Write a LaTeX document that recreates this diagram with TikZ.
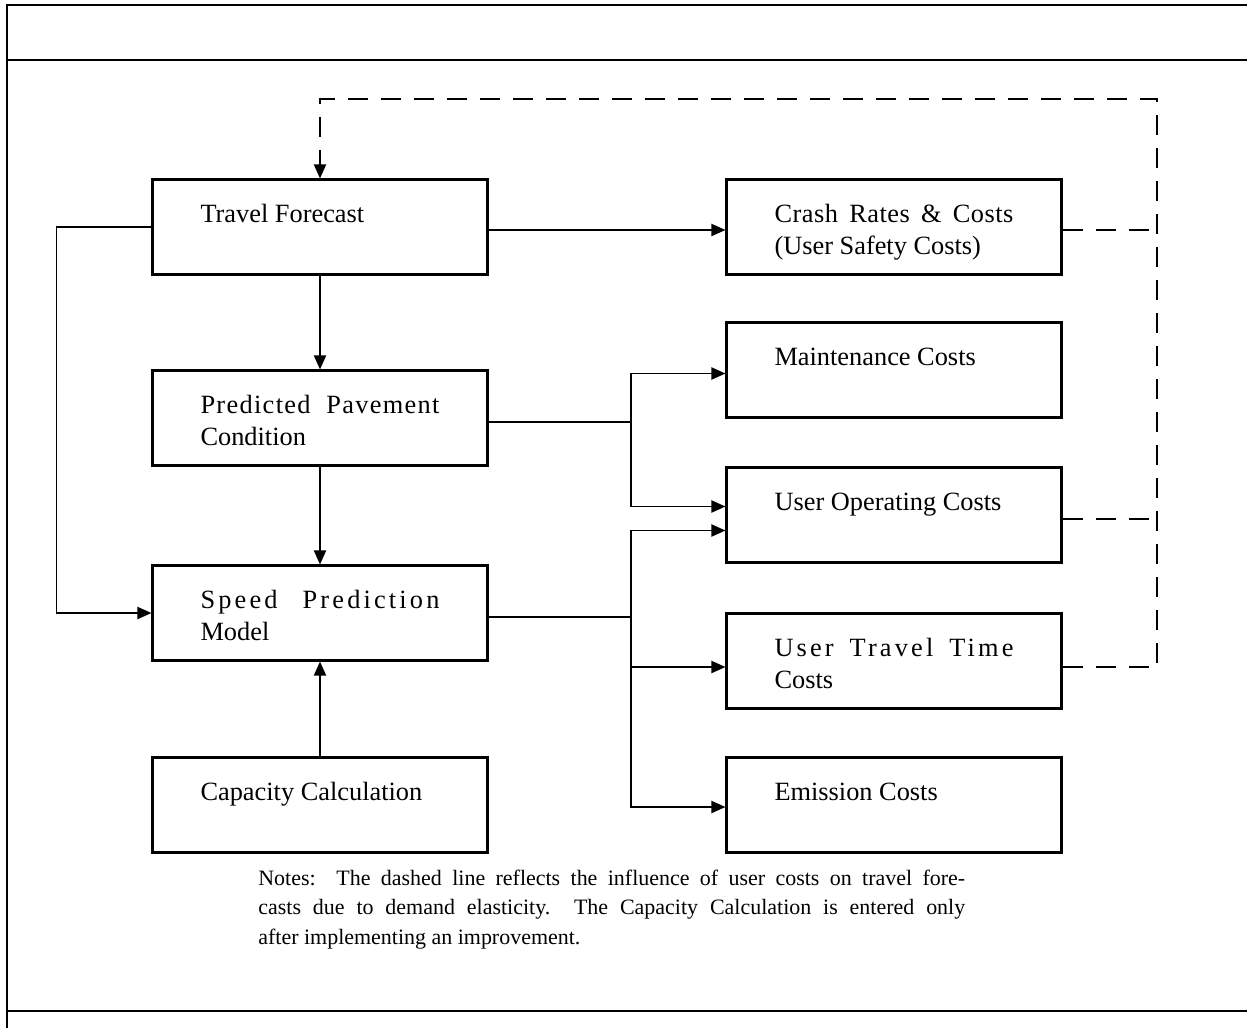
\documentclass[tikz,border=0pt]{standalone}
\usepackage{fontspec}
\setmainfont{Liberation Serif}
\usetikzlibrary{arrows.meta}

\newcommand{\tracked}[2]{{\addfontfeature{LetterSpace=#1}#2}}

\begin{document}
\begin{tikzpicture}[x=0.02cm, y=-0.02cm,
    stage/.style={draw, line width=1.2pt, rectangle, inner ysep=0pt, inner xsep=0.96cm,
        text width=4.78cm, align=justify, text height=0.86cm, text depth=1.04cm,
        font=\fontsize{15}{18}\selectfont},
    flow/.style={line width=1.1pt, -{Triangle[length=0.28cm,width=0.24cm]}},
    link/.style={line width=1.1pt},
    feedback/.style={line width=1.1pt, dash pattern=on 0.4cm off 0.26cm}]

    % Page size
    \useasboundingbox (0,0) rectangle (1247,1028);

    % Frame
    \draw[line width=1.1pt] (7,1028) -- (7,5) -- (1247,5);
    \draw[line width=1.1pt] (7,60) -- (1247,60);
    \draw[line width=1.1pt] (7,1011) -- (1247,1011);

    % Left column
    \node[stage] (tf)   at (320,227) {Travel Forecast};
    \node[stage] (ppc)  at (320,418) {\tracked{5}{Predicted Pavement}\linebreak Condition};
    \node[stage] (spm)  at (320,613) {\tracked{12}{Speed Prediction}\linebreak Model};
    \node[stage] (cap)  at (320,805) {Capacity Calculation};

    % Right column
    \node[stage] (crash) at (894,227) {\tracked{2}{Crash Rates \& Costs}\linebreak (User Safety Costs)};
    \node[stage] (maint) at (894,370) {Maintenance Costs};
    \node[stage] (uoc)   at (894,515) {User Operating Costs};
    \node[stage] (utt)   at (894,661) {\tracked{12}{User Travel Time}\linebreak Costs};
    \node[stage] (emis)  at (894,805) {Emission Costs};

    % Branch points
    \coordinate (pbr) at (631,422);
    \coordinate (sbr) at (631,617);
    \coordinate (loop) at (1157,99);

    % Solid connectors
    \draw[flow] (tf.west) -- ++(-95,0) |- (spm.west);
    \draw[flow] (tf.south) -- (ppc.north);
    \draw[flow] (ppc.south) -- (spm.north);
    \draw[flow] (cap.north) -- (spm.south);
    \draw[flow] ([yshift=-0.06cm]tf.east) -- ([yshift=-0.06cm]crash.west);

    \draw[link] (ppc.east |- pbr) -- (pbr);
    \draw[flow] (pbr) |- ([yshift=-0.07cm]maint.west);
    \draw[flow] (pbr) |- ([yshift=0.17cm]uoc.west);

    \draw[link] (spm.east |- sbr) -- (sbr);
    \draw[flow] (sbr) |- ([yshift=-0.31cm]uoc.west);
    \draw[flow] (sbr) |- ([yshift=-0.12cm]utt.west);
    \draw[flow] (sbr) |- ([yshift=-0.04cm]emis.west);

    % Feedback of user costs (dashed)
    \draw[feedback] ([yshift=-0.06cm]crash.east) -- ([yshift=-0.06cm]crash.east -| loop);
    \draw[feedback] ([yshift=-0.08cm]uoc.east) -- ([yshift=-0.08cm]uoc.east -| loop);
    \draw[feedback, -{Triangle[length=0.28cm,width=0.24cm]}]
        ([yshift=-0.12cm]utt.east) -| (loop) -| (tf.north);

    % Notes
    \node[anchor=base west, inner sep=0pt, text width=14.14cm, align=justify,
        font=\fontsize{12.5}{17}\selectfont] (notes) at (258,885)
        {Notes:\ \ The dashed line reflects the influence of user costs on travel fore-\linebreak
         casts due to demand elasticity.\ \ The Capacity Calculation is entered only\linebreak
         after implementing an improvement.};

\end{tikzpicture}
\end{document}
